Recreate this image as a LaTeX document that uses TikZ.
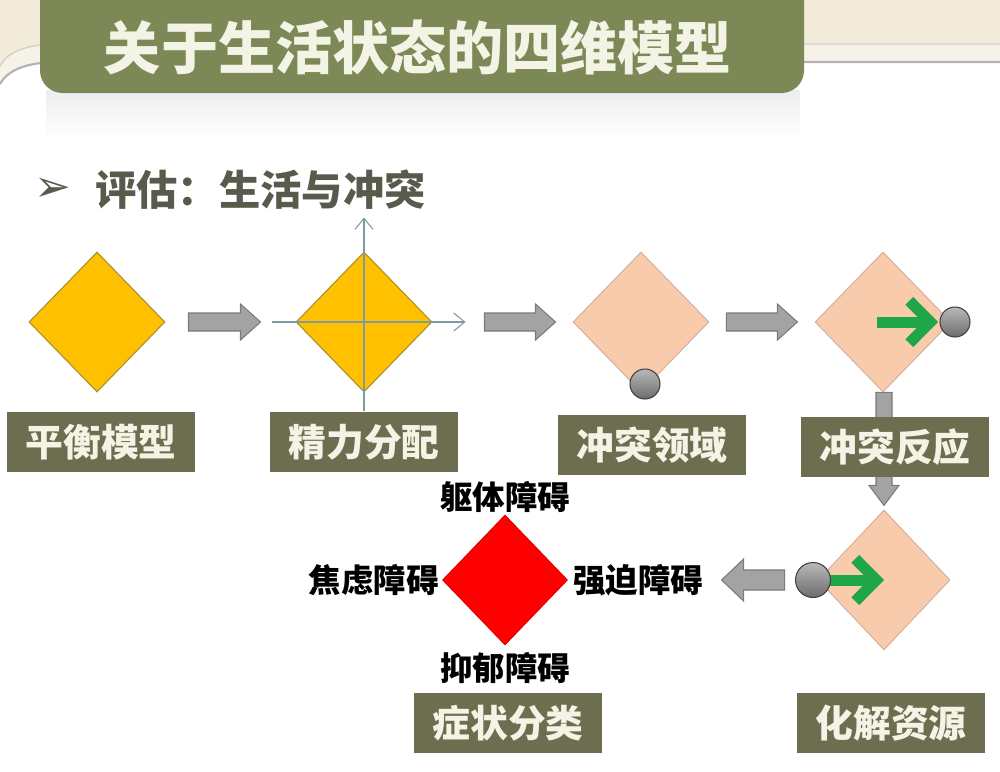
\documentclass[tikz,border=0pt]{standalone}
\usepackage{fontspec}
\newfontfamily\cjk{Noto Sans CJK SC}
\newfontfamily\dvs{DejaVu Sans}
\usetikzlibrary{shapes.geometric,arrows.meta,calc,positioning}
\definecolor{cream}{HTML}{F3EBDA}
\definecolor{creamlight}{HTML}{F7F2E8}
\definecolor{bannergreen}{HTML}{7C8956}
\definecolor{titlewhite}{HTML}{F4F4E6}
\definecolor{subgrey}{HTML}{5A5A4C}
\definecolor{boxolive}{HTML}{6C6E4F}
\definecolor{dyellow}{HTML}{FFC000}
\definecolor{dyellowline}{HTML}{A88F2A}
\definecolor{dpeach}{HTML}{F8CBAD}
\definecolor{dpeachline}{HTML}{D0AC98}
\definecolor{dred}{HTML}{FF0000}
\definecolor{arrgrey}{HTML}{A3A3A3}
\definecolor{arrline}{HTML}{7A7A7A}
\definecolor{axiscol}{HTML}{7E9CA0}
\definecolor{greenarr}{HTML}{1FA64A}
\newcommand\blkarr[6]{%
  \draw[blockarrow, shift={#1}, rotate=#3]
    (0,-#4) -- (#2-#6,-#4) -- (#2-#6,-#5) -- (#2,0) -- (#2-#6,#5) -- (#2-#6,#4) -- (0,#4) -- cycle;}
\begin{document}
\begin{tikzpicture}[x=0.02cm,y=-0.02cm,
  ydiam/.style={diamond, minimum width=2.72cm, minimum height=2.8cm, inner sep=0pt, fill=dyellow, draw=dyellowline, line width=0.6pt},
  pdiam/.style={diamond, minimum width=2.72cm, minimum height=2.8cm, inner sep=0pt, fill=dpeach, draw=dpeachline, line width=0.5pt},
  labelbox/.style={rectangle, fill=boxolive, minimum width=3.76cm, minimum height=1.2cm, inner sep=0pt, text=titlewhite, font=\cjk\bfseries\fontsize{21.5pt}{24pt}\selectfont},
  symlabel/.style={text=black, font=\cjk\bfseries\fontsize{18.5pt}{21pt}\selectfont, inner sep=0pt},
  blockarrow/.style={fill=arrgrey, draw=arrline, line width=0.6pt, line join=miter},
  ball/.style={circle, minimum size=0.6cm, inner sep=0pt, draw=black!75, line width=0.6pt, top color=gray!55, bottom color=gray!85!black},
  axisline/.style={draw=axiscol, line width=0.6pt, -{Straight Barb[length=0.22cm,width=0.36cm]}},
  garrow/.style={draw=greenarr, line width=0.22cm, -{Straight Barb[length=0.42cm,width=0.85cm]}}
]
\useasboundingbox (0,0) rectangle (1000,771);
% background
\fill[white] (0,0) rectangle (1000,771);
\fill[cream] (0,0) -- (1000,0) -- (1000,44) -- (60,44) .. controls (22,44) and (6,54) .. (0,66) -- cycle;
\fill[creamlight] (1000,44) -- (60,44) .. controls (22,44) and (6,54) .. (0,66) -- (0,84) .. controls (8,70) and (26,62) .. (60,62) -- (1000,62) -- cycle;
\draw[black!18, line width=0.8pt] (1000,44) -- (60,44) .. controls (22,44) and (6,54) .. (0,66);
\draw[black!30, line width=1.2pt] (0,84) .. controls (8,70) and (26,62) .. (60,62) -- (1000,62);
% banner shadow
\shade[top color=black!7, bottom color=white] (46,90) rectangle (800,140);
% banner
\fill[bannergreen, rounded corners=0.45cm] (40,-30) rectangle (804,93);
\node[text=titlewhite, font=\cjk\bfseries\fontsize{32.5pt}{36pt}\selectfont, inner sep=0pt] (title) at (418,47) {关于生活状态的四维模型};
% subtitle
\node[text=subgrey, font=\dvs\fontsize{25pt}{28pt}\selectfont, inner sep=0pt] (bullet) at (53,190) {➢};
\node[text=subgrey, font=\cjk\bfseries\fontsize{23.5pt}{27pt}\selectfont, inner sep=0pt, anchor=west] (subtitle) at (95,190) {评估：生活与冲突};
% diamonds
\node[ydiam] (d1) at (97,322) {};
\node[ydiam] (d2) at (364,322) {};
\node[pdiam] (d3) at (641,322) {};
\node[pdiam] (d4) at (883,322) {};
\node[pdiam, minimum width=2.64cm] (d5) at (884,580) {};
\node[diamond, minimum width=2.5cm, minimum height=2.6cm, inner sep=0pt, fill=dred, draw=red!85!black, line width=0.5pt] (d6) at (505,580) {};
% axes on d2
\draw[axisline] ($(d2.west)+(-23,0)$) -- ($(d2.east)+(33,0)$);
\draw[axisline] ($(d2.south)+(0,18)$) -- ($(d2.north)+(0,-34)$);
% block arrows
\blkarr{($(d1.east)+(23,0)$)}{72}{0}{9}{18}{20}
\blkarr{($(d2.east)+(52,0)$)}{71}{0}{9}{18}{20}
\blkarr{($(d3.east)+(17,0)$)}{71}{0}{9}{18}{20}
\blkarr{($(d4.south)+(1,0)$)}{113}{-90}{8}{15}{20}
\blkarr{($(d5.west)+(-33,0)$)}{63}{180}{10}{21}{22}
% balls and green arrows
\node[ball] (b3) at (645,384) {};
\draw[garrow] (877,322) -- (938,322);
\node[ball] (b4) at (955,322) {};
\draw[garrow] (827,580) -- (884,580);
\node[ball, minimum width=0.58cm, minimum height=0.7cm] (b5) at (813,580) {};
% label boxes
\node[labelbox] (l1) at (101,442) {平衡模型};
\node[labelbox] (l2) at (364,442) {精力分配};
\node[labelbox] (l3) at (652,445) {冲突领域};
\node[labelbox] (l4) at (895,447) {冲突反应};
\node[labelbox] (l5) at (508,723) {症状分类};
\node[labelbox] (l6) at (891,723) {化解资源};
% symptom labels
\node[symlabel, above=0.04cm of d6] (s1) {躯体障碍};
\node[symlabel, left=0.06cm of d6] (s2) {焦虑障碍};
\node[symlabel, right=0.1cm of d6] (s3) {强迫障碍};
\node[symlabel, below=0.14cm of d6] (s4) {抑郁障碍};
\end{tikzpicture}
\end{document}
